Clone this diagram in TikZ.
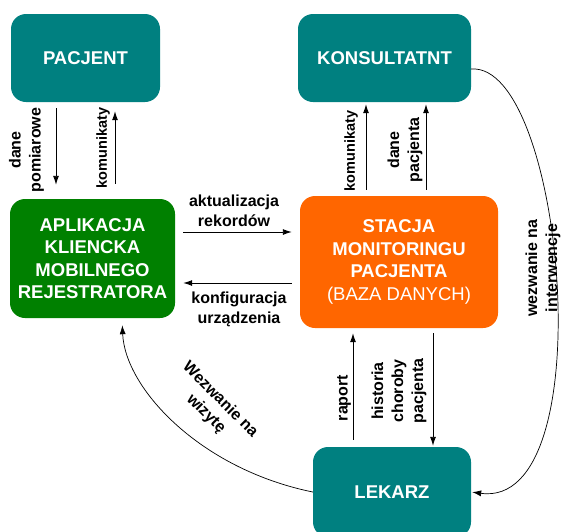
\documentclass[tikz,border=0pt]{standalone}
\usepackage{fontspec}
\setmainfont{Liberation Sans}
\usetikzlibrary{arrows.meta}

\definecolor{morski}{RGB}{0,128,128}
\definecolor{zielony}{RGB}{0,128,0}
\definecolor{pomarancz}{RGB}{255,102,0}

\begin{document}
\begin{tikzpicture}[x=1pt, y=-1pt,
    >={Latex[length=9pt,width=6pt]},
    pudlo/.style={rounded corners=15pt, inner sep=0pt, align=center, text=white,
        font=\fontsize{18.5}{22.5}\selectfont\bfseries},
    opis/.style={inner sep=0pt, align=center, font=\fontsize{16}{20}\selectfont\bfseries},
    opismaly/.style={opis, font=\fontsize{14.5}{18}\selectfont\bfseries},
    strzalka/.style={->, line width=0.9pt},
    luk/.style={->, line width=0.7pt}]
    \useasboundingbox (0,0) rectangle (561,531);
    % bloki
    \node[pudlo, fill=morski, minimum width=149pt, minimum height=88pt] (pacjent) at (85.5,58) {PACJENT};
    \node[pudlo, fill=morski, minimum width=173pt, minimum height=88pt] (konsultant) at (384.5,58) {KONSULTATNT};
    \node[pudlo, fill=zielony, minimum width=165pt, minimum height=119pt] (aplikacja) at (92.5,258.5)
        {APLIKACJA\\KLIENCKA\\MOBILNEGO\\REJESTRATORA};
    \node[pudlo, fill=pomarancz, minimum width=198pt, minimum height=132pt] (stacja) at (399,262)
        {STACJA\\MONITORINGU\\PACJENTA\\{\mdseries (BAZA DANYCH)}};
    \node[pudlo, fill=morski, minimum width=158pt, minimum height=90pt] (lekarz) at (392,492) {LEKARZ};

    % pacjent <-> aplikacja
    \draw[strzalka, shorten <=6pt, shorten >=14pt] ([xshift=-29.5pt]pacjent.south) -- ([xshift=-29.5pt]pacjent.south |- aplikacja.north);
    \draw[strzalka, shorten <=15pt, shorten >=9pt] ([xshift=29.5pt]pacjent.south |- aplikacja.north) -- ([xshift=29.5pt]pacjent.south);
    \node[opis, rotate=90] (lpomiar) at (26.5,150) {dane\\pomiarowe};
    \node[opismaly, rotate=90] (lkomun1) at (103,148) {komunikaty};

    % stacja -> konsultant
    \draw[strzalka, shorten <=6pt, shorten >=2pt] ([xshift=-18.5pt]konsultant.south |- stacja.north) -- ([xshift=-18.5pt]konsultant.south);
    \draw[strzalka, shorten <=6pt, shorten >=2pt] ([xshift=41.5pt]konsultant.south |- stacja.north) -- ([xshift=41.5pt]konsultant.south);
    \node[opismaly, rotate=90] (lkomun2) at (351,151) {komunikaty};
    \node[opis, rotate=90] (ldane) at (405,150) {dane\\pacjenta};

    % aplikacja <-> stacja
    \draw[strzalka, shorten <=8pt, shorten >=8pt] ([yshift=26.5pt]aplikacja.east) -- ([yshift=26.5pt]aplikacja.east -| stacja.west);
    \draw[strzalka, shorten <=8pt, shorten >=8pt] ([yshift=-24.5pt]aplikacja.east -| stacja.west) -- ([yshift=-24.5pt]aplikacja.east);
    \node[opis] (lakt) at (234,211) {aktualizacja\\rekordów};
    \node[opis] (lkonf) at (239,309) {konfiguracja\\urządzenia};

    % stacja <-> lekarz
    \draw[strzalka, shorten <=7pt, shorten >=5pt] ([xshift=-46pt]stacja.south |- lekarz.north) -- ([xshift=-46pt]stacja.south);
    \draw[strzalka, shorten <=5pt, shorten >=1pt] ([xshift=34pt]stacja.south) -- ([xshift=34pt]stacja.south |- lekarz.north);
    \node[opis, rotate=90] (lraport) at (344,398) {raport};
    \node[opis, rotate=90] (lhist) at (399,391) {historia\\choroby\\pacjenta};

    % wezwania
    \draw[luk, shorten >=7pt] (lekarz.west) .. controls +(-113,-23) and +(3,70) .. ([xshift=29.5pt]aplikacja.south);
    \node[opis, rotate=-45] (lwizyta) at (213,407) {Wezwanie na\\wizytę};
    \draw[luk, shorten >=1pt] ([yshift=-11pt]konsultant.east) .. controls +(93,-7) and +(133,18) .. (lekarz.east);
    \node[opis, rotate=90] (linterw) at (543,268) {wezwanie na\\interwencje};
\end{tikzpicture}
\end{document}
